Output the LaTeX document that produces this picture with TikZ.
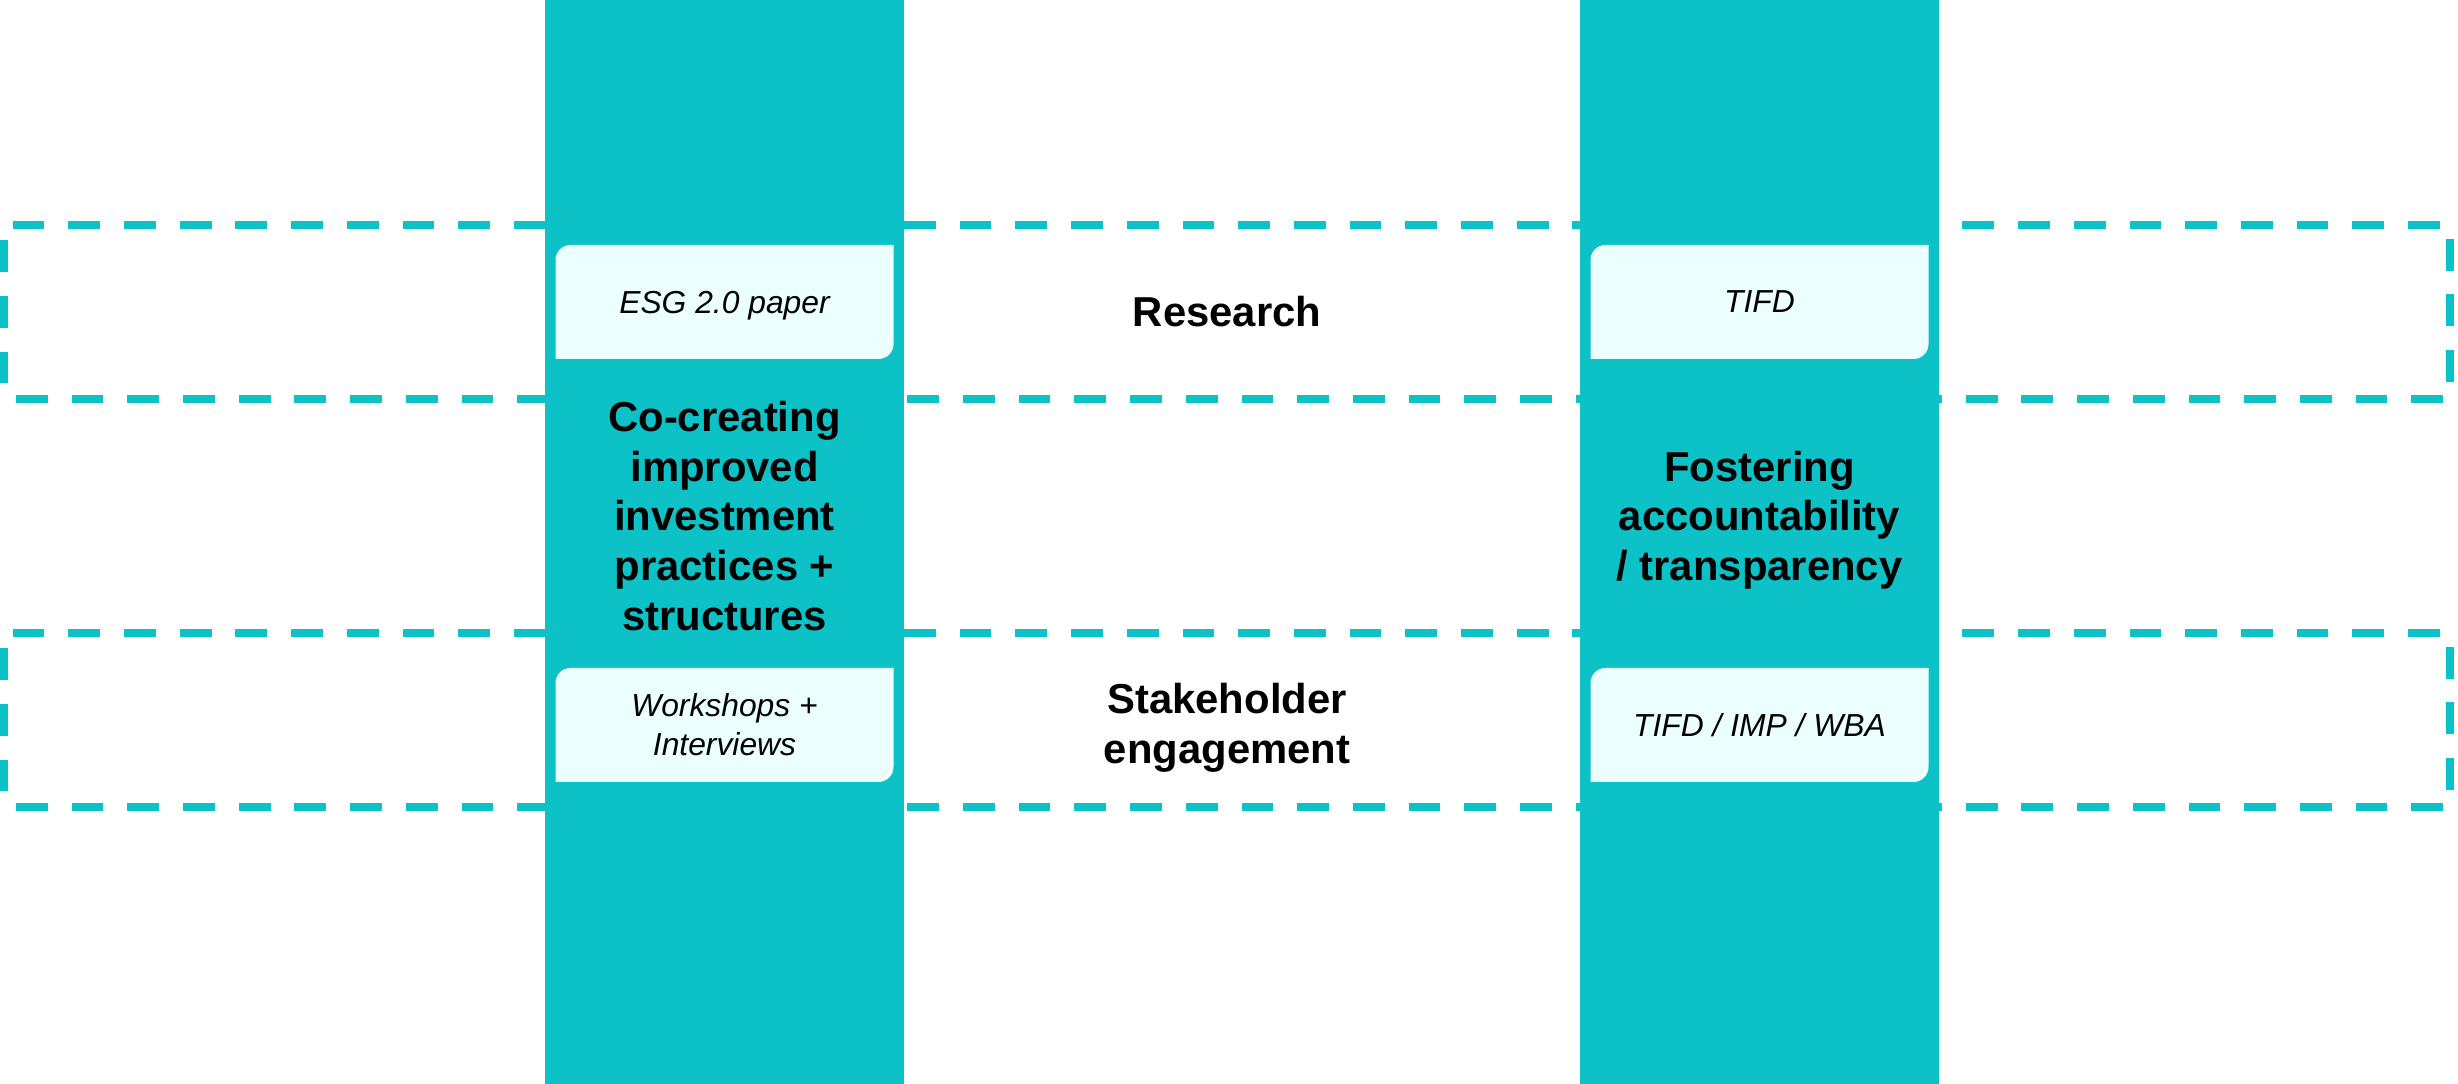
\documentclass[tikz,border=0pt]{standalone}
\usepackage{fontspec}
\setmainfont{Liberation Sans}
\usetikzlibrary{positioning}
\definecolor{colteal}{HTML}{0DC2C7}
\definecolor{cardbg}{HTML}{EBFFFF}
\tikzset{column/.style={fill=colteal, minimum width=7.18cm, minimum height=21.68cm, inner sep=0pt},
         band/.style={draw=colteal, line width=4.5pt, dash pattern=on 18.1pt off 13.6pt, dash phase=24.9pt,
                      minimum width=48.92cm, minimum height=3.48cm, inner sep=0pt},
         card/.style={fill=colteal, minimum width=6.76cm, minimum height=2.28cm, inner sep=0pt,
                      align=center, font=\fontsize{18.1}{22.1}\selectfont\itshape,
                      path picture={\fill[cardbg] (path picture bounding box.south west)
                        -- ([yshift=-0.3cm]path picture bounding box.north west)
                        arc[start angle=180, end angle=90, radius=0.3cm]
                        -- (path picture bounding box.north east)
                        -- ([yshift=0.3cm]path picture bounding box.south east)
                        arc[start angle=0, end angle=-90, radius=0.3cm] -- cycle;}},
         heading/.style={align=center, font=\fontsize{23.8}{28.3}\selectfont\bfseries},
         }
\begin{document}
\begin{tikzpicture}
\useasboundingbox (0,0) rectangle (49.16,21.68);
% dashed bands
\node[band] (researchband) at (24.54,15.44) {};
\node[band] (stakeband) at (24.54,7.28) {};
% columns
\node[column] (leftcol) at (14.49,10.84) {};
\node[column] (rightcol) at (35.19,10.84) {};
% cards
\node[card, text depth=0pt] (esg) at (14.49,15.64) {ESG 2.0 paper};
\node[card] (workshops) at (14.49,7.18) {Workshops +\\Interviews};
\node[card] (tifd) at (35.19,15.64) {TIFD};
\node[card] (tifdimp) at (35.19,7.18) {TIFD / IMP / WBA};
% headings
\node[heading] (cocreate) at (14.49,11.36) {Co-creating\\improved\\investment\\practices +\\structures};
\node[heading] (foster) at (35.19,11.28) {Fostering\\accountability\\/ transparency};
\node[heading] (research) at (researchband) {Research};
\node[heading] (stake) at ([yshift=-0.16cm]stakeband.center) {Stakeholder\\engagement};
\end{tikzpicture}
\end{document}
